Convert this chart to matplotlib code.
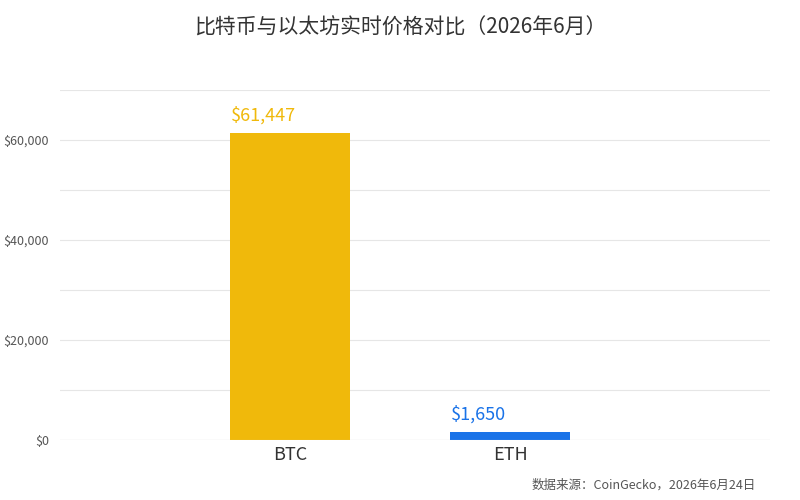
import matplotlib
matplotlib.use("Agg")
import matplotlib.pyplot as plt
from matplotlib.ticker import FuncFormatter, MultipleLocator

plt.rcParams['font.family'] = ['Noto Sans CJK SC', 'DejaVu Sans']

coins = ['BTC', 'ETH']
prices = [61447, 1650]
colors = ['#F0B90B', '#1A73E8']
labels = ['$61,447', '$1,650']

fig = plt.figure(figsize=(8, 5), dpi=100)
ax = fig.add_axes([0.075, 0.12, 0.8875, 0.70])
x = range(len(coins))
ax.bar(x, prices, width=0.545, color=colors, zorder=2)
for i, (p, lab) in enumerate(zip(prices, labels)):
    ax.text(i - 0.27, p + 1700, lab, color=colors[i], fontsize=13, ha='left', va='bottom')

ax.set_xlim(-1.045, 2.18)
ax.set_ylim(0, 70000)
ax.yaxis.set_major_locator(MultipleLocator(20000))
ax.yaxis.set_minor_locator(MultipleLocator(10000))
ax.yaxis.set_major_formatter(FuncFormatter(lambda v, p: f'${v:,.0f}'))
ax.grid(axis='y', which='both', color='#e6e6e6', linewidth=0.8, zorder=0)
ax.set_xticks(list(x))
ax.set_xticklabels(coins, fontsize=13, color='#333333')
ax.tick_params(axis='y', which='both', length=0, labelsize=9, labelcolor='#555555', pad=8)
ax.tick_params(axis='x', length=0, pad=4)
for s in ax.spines.values():
    s.set_visible(False)
ax.axhline(0, color='#cccccc', linewidth=0.8, zorder=3)

fig.text(0.5, 0.945, '比特币与以太坊实时价格对比（2026年6月）', ha='center', va='center',
         fontsize=15, color='#333333')
fig.text(0.945, 0.03, '数据来源：CoinGecko，2026年6月24日', ha='right', va='center',
         fontsize=9, color='#555555')

fig.savefig('out.png', dpi=100)
